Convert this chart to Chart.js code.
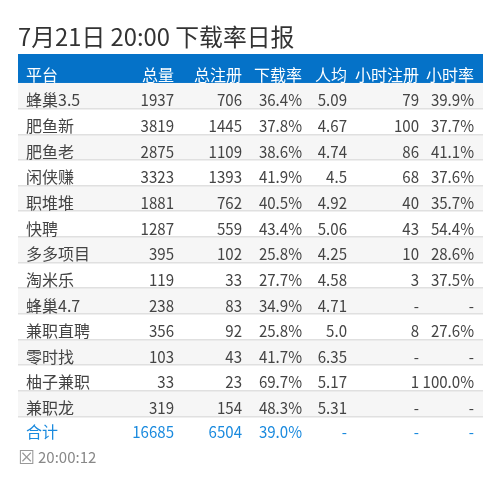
<!DOCTYPE html>
<html lang="zh-CN">
<head>
  <meta charset="UTF-8">
  <title>下载率日报</title>
  <style>
    * { margin: 0; padding: 0; }
    body { background: #fff; }
    canvas { display: block; }
  </style>
</head>
<body>
  <canvas id="report" width="500" height="490"></canvas>

  <script src="https://cdn.jsdelivr.net/npm/chart.js"></script>
  <script>
    const titleText = '7月21日 20:00 下载率日报';
    const footerIcon = '☒';
    const footerTime = '20:00:12';
    const headers = ['平台', '总量', '总注册', '下载率', '人均', '小时注册', '小时率'];
    const platforms = ['蜂巢3.5', '肥鱼新', '肥鱼老', '闲侠赚', '职堆堆', '快聘', '多多项目', '淘米乐', '蜂巢4.7', '兼职直聘', '零时找', '柚子兼职', '兼职龙', '合计'];
    const totals = ['1937', '3819', '2875', '3323', '1881', '1287', '395', '119', '238', '356', '103', '33', '319', '16685'];
    const registers = ['706', '1445', '1109', '1393', '762', '559', '102', '33', '83', '92', '43', '23', '154', '6504'];
    const downloadRates = ['36.4%', '37.8%', '38.6%', '41.9%', '40.5%', '43.4%', '25.8%', '27.7%', '34.9%', '25.8%', '41.7%', '69.7%', '48.3%', '39.0%'];
    const averages = ['5.09', '4.67', '4.74', '4.5', '4.92', '5.06', '4.25', '4.58', '4.71', '5.0', '6.35', '5.17', '5.31', '-'];
    const hourRegisters = ['79', '100', '86', '68', '40', '43', '10', '3', '-', '8', '-', '1', '-', '-'];
    const hourRates = ['39.9%', '37.7%', '41.1%', '37.6%', '35.7%', '54.4%', '28.6%', '37.5%', '-', '27.6%', '-', '100.0%', '-', '-'];

    const columns = [platforms, totals, registers, downloadRates, averages, hourRegisters, hourRates];
    // x scale runs in page pixels, these are the column anchors on it
    const columnX = [26, 174, 242, 302, 347, 419, 474];
    const FONT = '"Noto Sans CJK SC", "Noto Sans", sans-serif';
    const lastRow = platforms.length - 1;

    const tablePlugin = {
      id: 'tablePlugin',
      beforeDraw(chart) {
        const { ctx, chartArea } = chart;
        ctx.save();
        ctx.fillStyle = '#0572c8';
        ctx.fillRect(chartArea.left, 54, chartArea.right - chartArea.left, chartArea.top - 54);
        ctx.restore();
      },
      afterDraw(chart) {
        const { ctx, chartArea } = chart;
        const x = chart.scales.x, y = chart.scales.y;
        ctx.save();
        ctx.textBaseline = 'middle';
        ctx.font = '16px ' + FONT;

        // header row
        ctx.fillStyle = '#ffffff';
        headers.forEach((h, c) => {
          ctx.textAlign = c === 0 ? 'left' : 'right';
          ctx.fillText(h, x.getPixelForValue(columnX[c]), chartArea.top - 8);
        });

        // body cells, the digits in the reference are narrower than Noto's so squeeze them
        columns.forEach((col, c) => {
          ctx.textAlign = c === 0 ? 'left' : 'right';
          col.forEach((val, r) => {
            ctx.fillStyle = r === lastRow ? '#1a8ade' : '#444444';
            const py = y.getPixelForValue(r) + (r === lastRow ? 2.5 : 4.5);
            const px = x.getPixelForValue(columnX[c]);
            if (c === 0) ctx.fillText(val, px, py);
            else ctx.fillText(val, px, py, ctx.measureText(val).width * 0.94);
          });
        });

        // footer
        ctx.fillStyle = '#999999';
        ctx.textAlign = 'left';
        ctx.font = '19px "DejaVu Sans", sans-serif';
        ctx.fillText(footerIcon, 18, chartArea.bottom + 17);
        ctx.fillStyle = '#888888';
        ctx.font = '15px ' + FONT;
        ctx.fillText(footerTime, 38, chartArea.bottom + 15);
        ctx.restore();
      }
    };

    new Chart(document.getElementById('report').getContext('2d'), {
      type: 'bar',
      data: {
        labels: platforms,
        datasets: [{
          // row bands across the whole table width
          data: platforms.map(() => [18, 483]),
          backgroundColor: platforms.map((p, i) => (i % 2 === 0 && i !== lastRow) ? '#f6f6f6' : '#ffffff'),
          barPercentage: 1,
          categoryPercentage: 1
        }]
      },
      options: {
        indexAxis: 'y',
        responsive: false,
        animation: false,
        layout: { padding: { left: 18, right: 17, top: 23, bottom: 48 } },
        scales: {
          x: { type: 'linear', display: false, min: 18, max: 483 },
          y: {
            type: 'category',
            border: { display: false },
            ticks: { display: false },
            grid: {
              offset: true,
              drawTicks: false,
              z: 1,
              lineWidth: 1.5,
              // the closing grid line has no tick, so c.tick is undefined there
              color: c => (c.index === 0 || !c.tick) ? 'rgba(0,0,0,0)' : '#e0e0e0'
            }
          }
        },
        plugins: {
          legend: { display: false },
          tooltip: { enabled: false },
          title: {
            display: true,
            text: titleText,
            align: 'start',
            color: '#333333',
            font: { family: FONT, size: 23.8, weight: 'normal', lineHeight: 1.2 },
            padding: { top: 0, bottom: 31.4 }
          }
        }
      },
      plugins: [tablePlugin]
    });
  </script>
</body>
</html>
